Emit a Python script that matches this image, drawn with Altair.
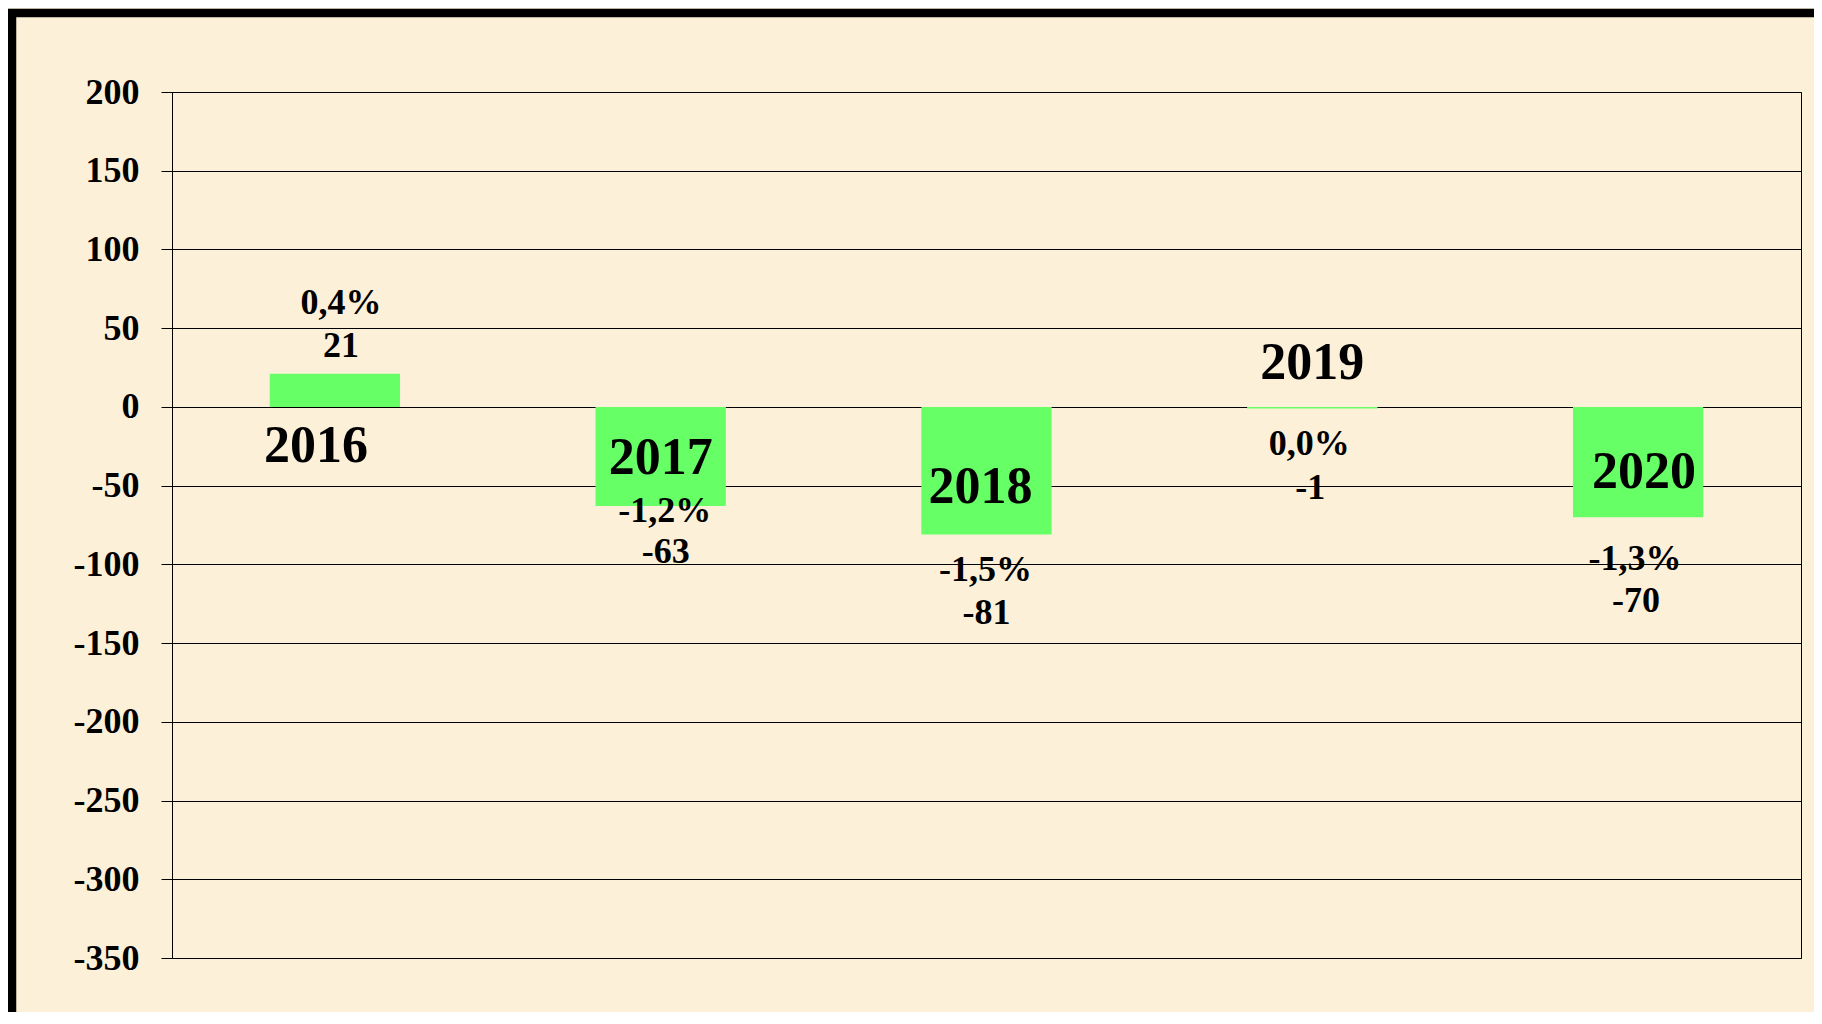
import altair as alt
import pandas as pd

# ---- data ----
categories = ["2016", "2017", "2018", "2019", "2020"]
values = [21, -63, -81, -1, -70]
pct_labels = ["0,4%", "-1,2%", "-1,5%", "0,0%", "-1,3%"]
y_ticks = [-350, -300, -250, -200, -150, -100, -50, 0, 50, 100, 150, 200]

df = pd.DataFrame({
    "year": categories,
    "value": values,
    "pct": pct_labels,
    "value_label": [str(v) for v in values],
})

# ---- label placement (pixel offsets from the bar end), style only ----
offsets = {
    "2016": {"pct": (6, -60), "value_label": (6, -17), "year": (-19, 88)},
    "2017": {"pct": (4, 16), "value_label": (5, 57), "year": (0, -32)},
    "2018": {"pct": (-1, 47), "value_label": (0, 90), "year": (-6, -31)},
    "2019": {"pct": (-3, 47), "value_label": (-2, 91), "year": (0, -29)},
    "2020": {"pct": (-3, 53), "value_label": (-2, 95), "year": (6, -29)},
}

FONT = "Liberation Serif"
BG = "#fcf0d8"

x_enc = alt.X("year:N", sort=categories, axis=None,
              scale=alt.Scale(paddingInner=0.6, paddingOuter=0.3))
y_enc = alt.Y("value:Q",
              scale=alt.Scale(domain=[-350, 200], nice=False, zero=False),
              axis=alt.Axis(values=y_ticks, grid=True, gridColor="black",
                            gridWidth=1, tickColor="black", tickSize=11,
                            tickWidth=1, domainColor="black", domainWidth=1,
                            labelFont=FONT, labelFontWeight="bold",
                            labelFontSize=36, labelColor="black",
                            labelPadding=22, title=None,
                            labelExpr="toString(datum.value)"))

base = alt.Chart(df)

bars = base.mark_bar(color="#66ff66").encode(
    x=x_enc, y=y_enc, y2=alt.datum(0)
)

frame = alt.Chart(pd.DataFrame({"a": [0]})).mark_rect(
    fillOpacity=0, stroke="black", strokeWidth=8.5
).encode(
    x=alt.value(-160), x2=alt.value(1700),
    y=alt.value(-79), y2=alt.value(1000)
)

layers = [frame, bars]
for cat in categories:
    for field, size in (("pct", 36), ("value_label", 36), ("year", 52)):
        dx, dy = offsets[cat][field]
        layers.append(
            base.transform_filter(alt.datum.year == cat).mark_text(
                font=FONT, fontWeight="bold", fontSize=size, color="black",
                align="center", baseline="alphabetic", dx=dx, dy=dy
            ).encode(x=x_enc, y=alt.Y("value:Q"), text=f"{field}:N")
        )

chart = alt.layer(*layers).properties(
    width=1629, height=866,
    autosize=alt.AutoSizeParams(type="none"),
    padding={"left": 164, "top": 84, "right": 13, "bottom": 54},
    background=BG,
).configure_view(stroke="black", strokeWidth=1, fill=BG)

chart.save("out.html", embed_options={"renderer": "svg", "actions": False})
